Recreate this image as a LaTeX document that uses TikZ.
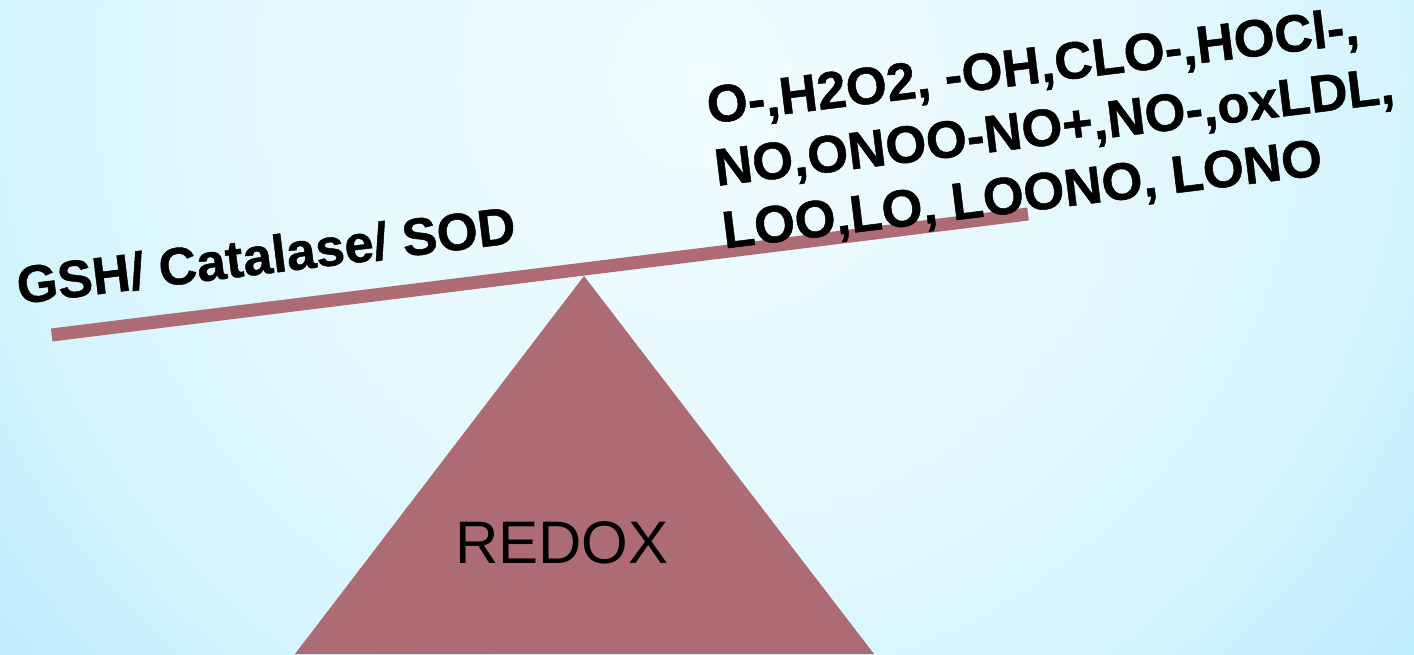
\documentclass[tikz,border=0pt]{standalone}
\usepackage{fontspec}
\setmainfont{Liberation Sans}
\newfontfamily\heavyfont[FakeBold=0.9]{Liberation Sans Bold}
\definecolor{rose}{RGB}{173,107,115}
\definecolor{bgA}{RGB}{240,252,255}
\definecolor{bgB}{RGB}{228,248,254}
\definecolor{bgC}{RGB}{212,244,254}
\definecolor{bgD}{RGB}{192,237,252}
\definecolor{bgE}{RGB}{184,234,252}
\pgfdeclareradialshading{bgshade}{\pgfpoint{0bp}{0bp}}{%
  color(0bp)=(bgA); color(11bp)=(bgB); color(17.5bp)=(bgC); color(22.5bp)=(bgD); color(25bp)=(bgE); color(50bp)=(bgE)}
\tikzset{
  lbl/.style={inner sep=0pt, anchor=base west, rotate=7, text=black,
    font=\heavyfont\fontsize{52.5}{63}\selectfont},
  beam/.style={line width=13pt, draw=rose},
  pivot/.style={fill=rose},
}
\begin{document}
\begin{tikzpicture}[x=1pt,y=1pt]
\useasboundingbox (0,0) rectangle (1414,654);
\begin{scope}
\clip (0,0) rectangle (1414,654);
\shade[shading=bgshade] (700,574) circle (1000);
\end{scope}
% pivot triangle
\coordinate (baseL) at (295,0);
\coordinate (apex) at (584,378);
\coordinate (baseR) at (874,0);
\fill[pivot] (baseL) -- (apex) -- (baseR) -- cycle;
% beam
\coordinate (barL) at (51.7,319);
\coordinate (barR) at (1028,440);
\draw[beam] (barL) -- (barR);
% labels
\node[lbl] (left) at (19,350) {GSH/ Catalase/ SOD};
\node[lbl] (r1) at (709,530.5) {O-,H2O2, -OH,CLO-,HOCl-,};
\node[lbl] (r2) at (716.7,468) {NO,ONOO-NO+,NO-,oxLDL,};
\node[lbl] (r3) at (724.4,405.5) {LOO,LO, LOONO, LONO};
\node[inner sep=0pt, anchor=base, font=\fontsize{60}{70}\selectfont] (redox) at (562,90.7) {REDOX};
\end{tikzpicture}
\end{document}
